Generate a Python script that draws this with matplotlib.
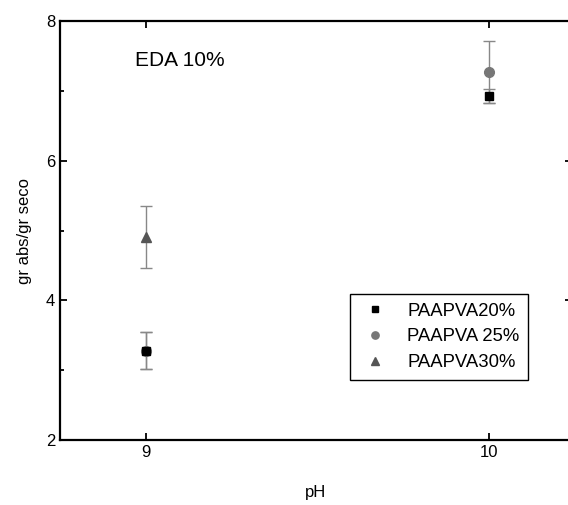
import numpy as np
import matplotlib.pyplot as plt
from matplotlib.ticker import MultipleLocator

plt.rcParams['font.family'] = ['Liberation Sans', 'DejaVu Sans']

# data
ph = [9, 10]
paapva20 = [3.28, 6.93]
paapva20_err = [0.26, 0.10]
paapva25 = [3.28, 7.27]
paapva25_err = [0.26, 0.44]
ph30 = [9]
paapva30 = [4.91]
paapva30_err = [0.44]

fig = plt.figure(figsize=(5.68, 5.05), dpi=100)
ax = fig.add_axes([60/568, 65/505, 512/568, 419/505])

ax.errorbar(ph, paapva25, yerr=paapva25_err, fmt='o', color='#777777',
            ecolor='#888888', elinewidth=1, capsize=4, ms=7, label='PAAPVA 25%')
ax.errorbar(ph, paapva20, yerr=paapva20_err, fmt='s', color='black',
            ecolor='#888888', elinewidth=1, capsize=4, ms=6, label='PAAPVA20%')
ax.errorbar(ph30, paapva30, yerr=paapva30_err, fmt='^', color='#555555',
            ecolor='#888888', elinewidth=1, capsize=4, ms=7, label='PAAPVA30%')

ax.set_xlim(8.75, 10.243)
ax.set_ylim(2, 8)
ax.set_xticks([9, 10])
ax.set_yticks([2, 4, 6, 8])
ax.yaxis.set_minor_locator(MultipleLocator(1))
ax.tick_params(which='both', direction='in', top=True, right=True, labelsize=12, width=1.3)
ax.tick_params(which='major', length=5)
ax.tick_params(which='minor', length=3)
for s in ax.spines.values():
    s.set_linewidth(1.6)

ax.set_xlabel('pH', fontsize=12, labelpad=18)
ax.set_ylabel('gr abs/gr seco', fontsize=12, labelpad=10)
ax.text(8.97, 7.35, 'EDA 10%', fontsize=15)

# legend order: square, circle, triangle
h, l = ax.get_legend_handles_labels()
order = [1, 0, 2]
leg = ax.legend([h[i][0] for i in order], [l[i] for i in order],
                loc='upper left', bbox_to_anchor=(0.566, 0.348), fontsize=13.3,
                fancybox=False, edgecolor='black', framealpha=1, markerscale=0.75,
                handlelength=1.8, handletextpad=0.85, borderpad=0.45,
                labelspacing=0.48, borderaxespad=0)
leg.get_frame().set_linewidth(1)

fig.savefig('out.png', dpi=100)
